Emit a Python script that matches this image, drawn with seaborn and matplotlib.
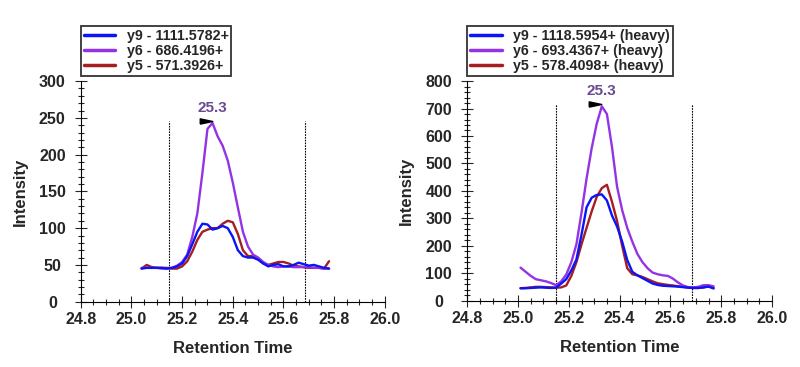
import matplotlib
matplotlib.use("Agg")
import matplotlib.pyplot as plt
import matplotlib.transforms as mtransforms
from matplotlib.ticker import MultipleLocator
import numpy as np
import pandas as pd
import seaborn as sns

# light peptide (left panel)
light_time = [25.04, 25.06, 25.08, 25.10, 25.12, 25.14, 25.16, 25.18, 25.20, 25.22,
              25.24, 25.26, 25.28, 25.30, 25.32, 25.34, 25.36, 25.38, 25.40, 25.42,
              25.44, 25.46, 25.48, 25.50, 25.52, 25.54, 25.56, 25.58, 25.60, 25.62,
              25.64, 25.66, 25.68, 25.70, 25.72, 25.74, 25.76, 25.78]
light_y9 = [45, 46, 46, 46, 46, 45, 46, 48, 52, 62, 78, 95, 106, 105, 98, 100, 103, 100, 88, 70,
            62, 60, 60, 57, 52, 48, 50, 51, 48, 48, 50, 53, 51, 49, 50, 48, 46, 45]
light_y6 = [46, 46, 46, 46, 45, 45, 46, 49, 54, 64, 88, 120, 175, 235, 243, 225, 212, 192, 162, 128,
            95, 75, 64, 60, 54, 50, 48, 47, 48, 48, 47, 47, 47, 47, 46, 46, 45, 45]
light_y5 = [45, 50, 47, 46, 46, 46, 45, 45, 48, 55, 68, 84, 95, 98, 100, 100, 106, 110, 108, 92,
            70, 62, 62, 58, 52, 50, 52, 54, 54, 52, 49, 48, 47, 46, 46, 46, 45, 55]
light_labels = ["y9 - 1111.5782+", "y6 - 686.4196+", "y5 - 571.3926+"]

# heavy peptide (right panel)
heavy_time = [25.01, 25.03, 25.05, 25.07, 25.09, 25.11, 25.13, 25.15, 25.17, 25.19,
              25.21, 25.23, 25.25, 25.27, 25.29, 25.31, 25.33, 25.35, 25.37, 25.39,
              25.41, 25.43, 25.45, 25.47, 25.49, 25.51, 25.53, 25.55, 25.57, 25.59,
              25.61, 25.63, 25.65, 25.67, 25.69, 25.71, 25.73, 25.75, 25.77]
heavy_y9 = [45, 45, 46, 47, 48, 47, 46, 47, 62, 78, 110, 150, 240, 340, 375, 385, 387, 365, 310, 270,
            215, 148, 105, 92, 82, 72, 62, 57, 54, 53, 52, 51, 49, 47, 46, 46, 48, 51, 44]
heavy_y6 = [120, 105, 90, 78, 74, 70, 64, 56, 70, 95, 140, 205, 320, 445, 555, 645, 708, 680, 560, 415,
            330, 265, 215, 170, 140, 118, 102, 96, 92, 90, 80, 66, 55, 49, 48, 50, 56, 56, 52]
heavy_y5 = [45, 46, 48, 50, 50, 49, 48, 47, 48, 55, 90, 140, 205, 265, 325, 378, 410, 422, 360, 290,
            200, 118, 96, 92, 86, 78, 70, 63, 60, 57, 55, 52, 50, 48, 46, 46, 48, 52, 47]
heavy_labels = ["y9 - 1118.5954+ (heavy)", "y6 - 693.4367+ (heavy)", "y5 - 578.4098+ (heavy)"]

boundaries = [25.15, 25.685]
colors = ["#0a14f5", "#9433e6", "#a41e22"]
zorders = [4, 3, 2]
label_color = "#6a4a90"

sns.set_style("ticks")
plt.rcParams["font.family"] = ["Liberation Sans", "DejaVu Sans"]
plt.rcParams["font.weight"] = "bold"

fig = plt.figure(figsize=(8, 3.67), dpi=100)
ax1 = fig.add_axes([0.101, 0.178, 0.380, 0.601])
ax2 = fig.add_axes([0.584, 0.181, 0.381, 0.598])

tri = [(-1, -0.42), (1, 0), (-1, 0.42), (-1, -0.42)]


def draw_panel(ax, time, series, labels, ymax, ymajor, yminor):
    for vals, lab, col, z in zip(series, labels, colors, zorders):
        df = pd.DataFrame({"t": time, "v": vals})
        sns.lineplot(data=df, x="t", y="v", ax=ax, color=col, linewidth=1.7,
                     label=lab, sort=False, estimator=None, zorder=z)
    top = max(max(s) for s in series)
    ax.vlines(boundaries, 0, top * 1.01, colors="black", linestyles=(0, (1.5, 1)), linewidth=0.8)

    # apex marker and label on the tallest trace
    peak = series[1]
    i = int(np.argmax(peak))
    px, py = time[i], peak[i]
    off = mtransforms.offset_copy(ax.transData, fig=ax.figure, x=-5, y=1.5, units="points")
    ax.plot([px], [py], marker=tri, markersize=9, color="black", transform=off,
            clip_on=False, zorder=5)
    ax.annotate(f"{px:.1f}", (px, py), xytext=(0, 6), textcoords="offset points",
                ha="center", va="bottom", color=label_color, fontsize=11, fontweight="bold")

    ax.set_xlim(24.8, 26.0)
    ax.set_ylim(0, ymax)
    ax.xaxis.set_major_locator(MultipleLocator(0.2))
    ax.xaxis.set_minor_locator(MultipleLocator(0.05))
    ax.yaxis.set_major_locator(MultipleLocator(ymajor))
    ax.yaxis.set_minor_locator(MultipleLocator(yminor))
    ax.xaxis.set_major_formatter(matplotlib.ticker.FormatStrFormatter("%.1f"))
    ax.tick_params(which="major", direction="inout", length=8, width=0.8, labelsize=11.5)
    ax.tick_params(which="minor", direction="inout", length=5, width=0.8)
    ax.tick_params(axis="y", which="major", pad=16.5)
    for lbl in ax.get_xticklabels() + ax.get_yticklabels():
        lbl.set_fontweight("bold")
    for lbl in ax.get_yticklabels():
        lbl.set_horizontalalignment("center")
    ax.set_xlabel("Retention Time", fontsize=12, fontweight="bold", labelpad=10)
    ax.set_ylabel("Intensity", fontsize=12, fontweight="bold", labelpad=8)
    sns.despine(ax=ax)
    for sp in ("left", "bottom"):
        ax.spines[sp].set_linewidth(0.8)
        ax.spines[sp].set_color("black")

    leg = ax.legend(loc="lower left", bbox_to_anchor=(0, 1.025), borderaxespad=0,
                    frameon=True, fancybox=False, edgecolor="black",
                    handlelength=2.2, handletextpad=0.8, labelspacing=0.05,
                    borderpad=0.2, prop={"weight": "bold", "size": 10.3})
    leg.get_frame().set_linewidth(1.3)
    for h in leg.get_lines():
        h.set_linewidth(2.5)


draw_panel(ax1, light_time, [light_y9, light_y6, light_y5], light_labels, 300, 50, 10)
draw_panel(ax2, heavy_time, [heavy_y9, heavy_y6, heavy_y5], heavy_labels, 800, 100, 20)

fig.savefig("out.png", dpi=100)
